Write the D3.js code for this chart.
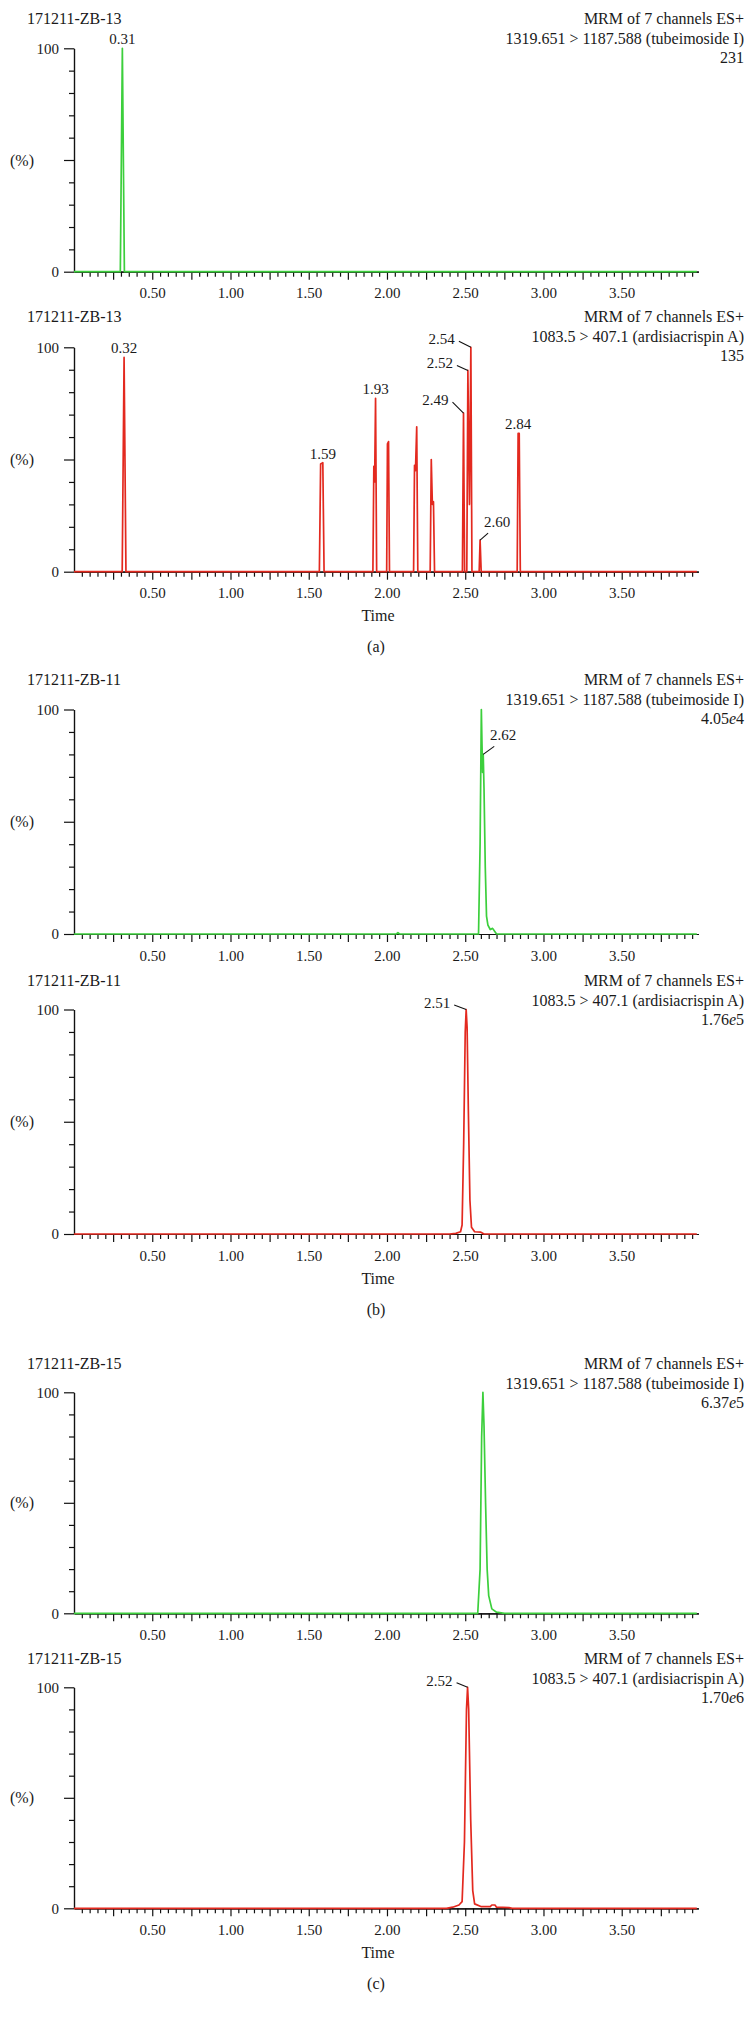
<!DOCTYPE html>
<html>
<head>
<meta charset="utf-8">
<script src="https://cdn.jsdelivr.net/npm/d3@7"></script>
<style>
  body { margin: 0; background: #fff; }
  svg text { font-family: "Liberation Serif", "DejaVu Serif", serif; fill: #1a1a1a; }
</style>
</head>
<body>
<svg id="chart" width="755" height="2017"></svg>
<script>
// --- data ---
const sampleNames = ["171211-ZB-13", "171211-ZB-13", "171211-ZB-11", "171211-ZB-11", "171211-ZB-15", "171211-ZB-15"];
const channelNames = [
  "1319.651 > 1187.588 (tubeimoside I)", "1083.5 > 407.1 (ardisiacrispin A)",
  "1319.651 > 1187.588 (tubeimoside I)", "1083.5 > 407.1 (ardisiacrispin A)",
  "1319.651 > 1187.588 (tubeimoside I)", "1083.5 > 407.1 (ardisiacrispin A)"
];
const scanTitle = "MRM of 7 channels ES+";
// intensity: mantissa, exponent (null = plain count)
const intensities = [["231", null], ["135", null], ["4.05", "4"], ["1.76", "5"], ["6.37", "5"], ["1.70", "6"]];
const groupLetters = ["(a)", "(b)", "(c)"];
const timeLabels = [0.5, 1.0, 1.5, 2.0, 2.5, 3.0, 3.5];
const yLabels = [0, 100];

// traces: [time (min), relative intensity (%)]
const traceA1 = [[0, 0], [0.296, 0], [0.309, 100], [0.322, 0], [3.98, 0]];
const traceA2 = [
  [0, 0], [0.308, 0], [0.32, 95.5], [0.332, 0],
  [1.568, 0], [1.576, 48], [1.59, 48.6], [1.598, 0],
  [1.91, 0], [1.916, 47], [1.921, 40], [1.927, 77.3], [1.934, 0],
  [1.998, 0], [2.003, 57], [2.01, 58], [2.016, 0],
  [2.17, 0], [2.176, 47.4], [2.182, 45], [2.19, 64.6], [2.197, 0],
  [2.276, 0], [2.283, 50], [2.29, 30], [2.297, 31.2], [2.304, 0],
  [2.482, 0], [2.489, 70.7], [2.496, 0],
  [2.51, 0], [2.517, 89.7], [2.527, 30], [2.536, 100], [2.543, 0],
  [2.589, 0], [2.595, 14.1], [2.602, 0],
  [2.832, 0], [2.838, 61.6], [2.845, 61.6], [2.852, 0],
  [3.98, 0]
];
const traceB1 = [
  [0, 0], [2.06, 0], [2.07, 0.6], [2.08, 0], [2.585, 0], [2.595, 40], [2.603, 100],
  [2.607, 85], [2.611, 72], [2.615, 80], [2.62, 65], [2.628, 30], [2.636, 8],
  [2.645, 4], [2.66, 2], [2.675, 2.5], [2.69, 1], [2.70, 0], [3.98, 0]
];
const traceB2 = [
  [0, 0], [2.40, 0], [2.44, 0.3], [2.47, 1], [2.48, 4], [2.49, 40], [2.50, 90],
  [2.506, 100], [2.512, 92], [2.52, 55], [2.53, 15], [2.54, 3], [2.56, 1],
  [2.60, 0.8], [2.62, 0], [3.98, 0]
];
const traceC1 = [
  [0, 0], [2.58, 0], [2.595, 20], [2.605, 80], [2.613, 100], [2.62, 85], [2.63, 50],
  [2.64, 20], [2.65, 8], [2.67, 2], [2.70, 0.5], [2.75, 0], [3.98, 0]
];
const traceC2 = [
  [0, 0], [2.38, 0], [2.42, 0.5], [2.46, 1.5], [2.48, 3], [2.495, 30], [2.508, 90],
  [2.515, 100], [2.522, 90], [2.535, 40], [2.548, 8], [2.56, 2], [2.60, 0.8],
  [2.66, 0.8], [2.67, 1.5], [2.69, 1.5], [2.70, 0.5], [2.78, 0.3], [2.80, 0], [3.98, 0]
];
const traces = [traceA1, traceA2, traceB1, traceB2, traceC1, traceC2];

// peak labels: retention time, intensity at the marked point, text
const peaksA1 = [[0.309, 100, "0.31"]];
const peaksA2 = [[0.32, 95.5, "0.32"], [1.59, 48.6, "1.59"], [1.927, 77.3, "1.93"], [2.838, 61.6, "2.84"],
                 [2.489, 70.7, "2.49"], [2.517, 89.7, "2.52"], [2.536, 100, "2.54"], [2.595, 14.1, "2.60"]];
const peaksB1 = [[2.615, 80, "2.62"]];
const peaksB2 = [[2.506, 100, "2.51"]];
const peaksC1 = [];
const peaksC2 = [[2.515, 100, "2.52"]];
const peaks = [peaksA1, peaksA2, peaksB1, peaksB2, peaksC1, peaksC2];

// --- layout ---
const green = "#3ccf3c", red = "#e3291f";
const panelColors = [green, red, green, red, green, red];
const panelTop = [48.3, 347.3, 709.5, 1009.5, 1392.3, 1687.3];
const panelBottom = [271.7, 571.7, 934, 1234, 1613.3, 1908.3];
const titleY = [18, 316.7, 679.3, 980, 1363, 1658.3];
const axisLeft = 74, axisRight = 698.4;
// leader lines: [dx, dy] from the marked point, per panel + label
const leaders = {
  "1:2.49": [-11, -11], "1:2.52": [-11, -5], "1:2.54": [-12, -6], "1:2.60": [8, -7],
  "2:2.62": [11, -8], "3:2.51": [-12, -4.5], "5:2.52": [-11, -4.5]
};

const svg = d3.select("#chart");
const x = d3.scaleLinear().domain([0, 3.99]).range([axisLeft, axisRight]);

function styleAxis(g) {
  g.attr("font-family", "Liberation Serif, DejaVu Serif, serif").attr("font-size", 15);
  g.selectAll("path, line").attr("stroke", "#111").attr("stroke-width", 1.2);
  g.selectAll("text").attr("fill", "#1a1a1a");
}

function drawPanel(i) {
  const top = panelTop[i], bottom = panelBottom[i];
  const y = d3.scaleLinear().domain([0, 100]).range([bottom, top]);
  const g = svg.append("g");

  // x axis: minor ticks every 0.05, major every 0.25, labels every 0.5
  const minor = d3.range(1, 80).map(k => k * 0.05).filter(v => Math.abs(v / 0.25 - Math.round(v / 0.25)) > 1e-6);
  const major = d3.range(1, 16).map(k => k * 0.25);
  g.append("g").attr("transform", `translate(0,${bottom})`)
      .call(d3.axisBottom(x).tickValues(minor).tickSize(5).tickSizeOuter(0).tickFormat(""))
      .call(styleAxis);
  g.append("g").attr("transform", `translate(0,${bottom})`)
      .call(d3.axisBottom(x).tickValues(major).tickSize(8).tickSizeOuter(0).tickPadding(8)
                .tickFormat(d => timeLabels.some(t => Math.abs(t - d) < 1e-6) ? d3.format(".2f")(d) : ""))
      .call(styleAxis);

  // y axis
  g.append("g").attr("transform", `translate(${axisLeft},0)`)
      .call(d3.axisLeft(y).tickValues(d3.range(10, 100, 10).filter(v => v !== 50)).tickSize(5).tickSizeOuter(0).tickFormat(""))
      .call(styleAxis);
  g.append("g").attr("transform", `translate(${axisLeft},0)`)
      .call(d3.axisLeft(y).tickValues([0, 50, 100]).tickSize(10).tickSizeOuter(0).tickPadding(5)
                .tickFormat(d => yLabels.includes(d) ? d : ""))
      .call(styleAxis);

  g.append("text").attr("x", 22).attr("y", y(50)).attr("dy", "0.35em")
      .attr("text-anchor", "middle").attr("font-size", 16).text("(%)");

  // trace
  const line = d3.line().x(d => x(d[0])).y(d => y(d[1]));
  g.append("path").datum(traces[i])
      .attr("fill", "none").attr("stroke", panelColors[i]).attr("stroke-width", 1.7)
      .attr("stroke-linejoin", "round").attr("d", line);

  // header texts
  g.append("text").attr("x", 27).attr("y", titleY[i]).attr("dy", "0.35em")
      .attr("font-size", 16).text(sampleNames[i]);
  const right = g.append("g").attr("text-anchor", "end").attr("font-size", 16);
  right.append("text").attr("x", 744).attr("y", titleY[i]).attr("dy", "0.35em").text(scanTitle);
  right.append("text").attr("x", 744).attr("y", titleY[i] + 20).attr("dy", "0.35em").text(channelNames[i]);
  const inten = right.append("text").attr("x", 744).attr("y", titleY[i] + 39).attr("dy", "0.35em");
  inten.append("tspan").text(intensities[i][0]);
  if (intensities[i][1]) {
    inten.append("tspan").attr("font-style", "italic").text("e");
    inten.append("tspan").text(intensities[i][1]);
  }

  // peak labels
  peaks[i].forEach(([t, v, txt]) => {
    const px = x(t), py = y(v);
    const lead = leaders[i + ":" + txt];
    if (!lead) {
      g.append("text").attr("x", px).attr("y", py - 4).attr("text-anchor", "middle")
          .attr("font-size", 15).text(txt);
      return;
    }
    const ex = px + lead[0], ey = py + lead[1];
    g.append("line").attr("x1", px).attr("y1", py).attr("x2", ex).attr("y2", ey)
        .attr("stroke", "#111").attr("stroke-width", 1.1);
    if (lead[0] < 0) {
      g.append("text").attr("x", ex - 4).attr("y", ey + 3).attr("text-anchor", "end")
          .attr("font-size", 15).text(txt);
    } else {
      g.append("text").attr("x", ex + 9).attr("y", ey - 6).attr("text-anchor", "middle")
          .attr("font-size", 15).text(txt);
    }
  });
}

d3.range(6).forEach(drawPanel);

// "Time" and group letters under each pair
[1, 3, 5].forEach((p, k) => {
  svg.append("text").attr("x", 378).attr("y", panelBottom[p] + 44).attr("dy", "0.35em")
      .attr("text-anchor", "middle").attr("font-size", 16).text("Time");
  svg.append("text").attr("x", 376).attr("y", panelBottom[p] + 75).attr("dy", "0.35em")
      .attr("text-anchor", "middle").attr("font-size", 16).text(groupLetters[k]);
});
</script>
</body>
</html>
